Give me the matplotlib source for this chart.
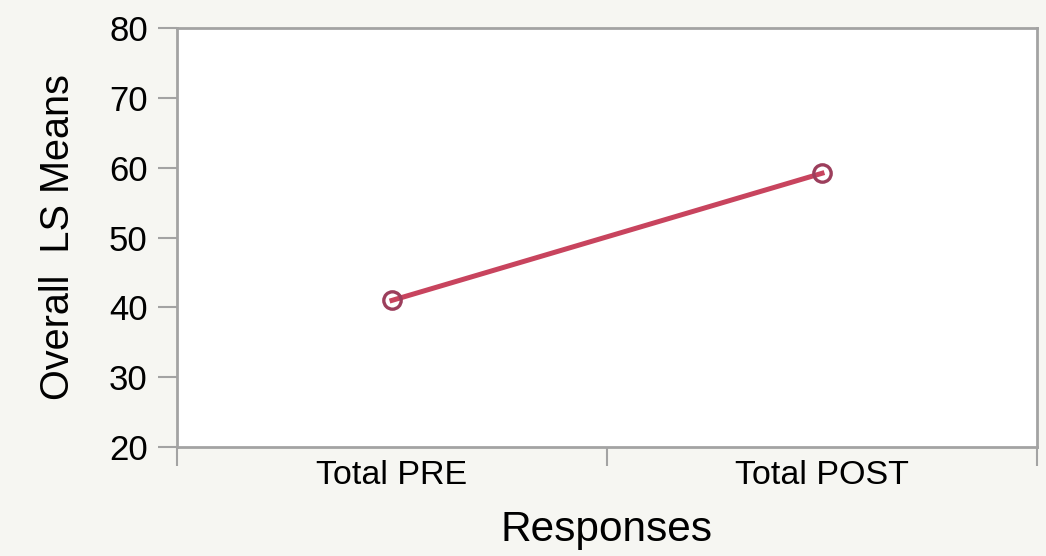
import matplotlib
matplotlib.use('Agg')
import matplotlib.pyplot as plt

# data
categories = ['Total PRE', 'Total POST']
ls_means = [41.0, 59.2]
y_ticks = [20, 30, 40, 50, 60, 70, 80]

LINE_COLOR = '#c8445e'
MARKER_EDGE = '#9c3e5c'
SPINE_COLOR = '#a3a3a3'
BG_COLOR = '#f6f6f2'

plt.rcParams['font.family'] = ['Liberation Sans', 'DejaVu Sans']

fig = plt.figure(figsize=(10.46, 5.56), dpi=100, facecolor=BG_COLOR)
ax = fig.add_axes([0.1692, 0.196, 0.8222, 0.7536])
ax.set_facecolor('white')

# categories sit in the middle of each band
xpos = [i + 0.5 for i in range(len(categories))]
ax.plot(xpos, ls_means, color=LINE_COLOR, linewidth=3.6, zorder=2)
ax.plot(xpos, ls_means, linestyle='none', marker='o', markersize=12.5,
        markerfacecolor='none', markeredgecolor=MARKER_EDGE, markeredgewidth=2.4, zorder=3)

ax.set_xlim(0, len(categories))
ax.set_ylim(20, 80)
ax.set_yticks(y_ticks)
ax.set_yticklabels([str(v) for v in y_ticks])

# band boundaries as major ticks, labels on minor ticks
ax.set_xticks(range(len(categories) + 1))
ax.set_xticklabels([])
ax.set_xticks(xpos, minor=True)
ax.set_xticklabels(categories, minor=True)

for s in ax.spines.values():
    s.set_color(SPINE_COLOR)
    s.set_linewidth(2)

ax.tick_params(axis='y', which='major', direction='out', length=14, width=1.5,
               color=SPINE_COLOR, labelsize=25, pad=7, labelcolor='black')
ax.tick_params(axis='x', which='major', direction='out', length=14, width=1.5,
               color=SPINE_COLOR)
ax.tick_params(axis='x', which='minor', length=0, labelsize=24.5, pad=9, labelcolor='black')

ax.set_xlabel('Responses', fontsize=30.5, labelpad=14)
ax.set_ylabel('Overall  LS Means', fontsize=28.5, labelpad=23)

fig.savefig('out.png', dpi=100, facecolor=BG_COLOR)
